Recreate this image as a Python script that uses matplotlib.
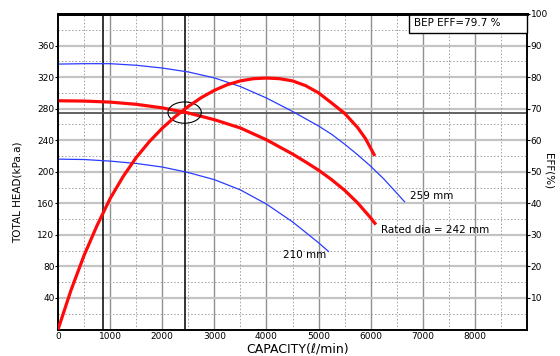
import numpy as np
import matplotlib
matplotlib.use("Agg")
import matplotlib.pyplot as plt
from matplotlib.patches import Ellipse, Rectangle

# capacity (l/min) vs head (kPa.a) for each impeller diameter
q_259 = [0, 500, 1000, 1500, 2000, 2500, 3000, 3500, 4000, 4500, 5000, 5250, 5500, 5750,
         6000, 6250, 6500, 6650]
h_259 = [336.5, 337, 337, 335, 331.5, 326.5, 319, 308, 293.5, 276.5, 258, 247.5, 235, 221.5,
         207, 191, 173, 162]

q_242 = [0, 500, 1000, 1500, 2000, 2500, 3000, 3500, 4000, 4500, 4750, 5000, 5250, 5500,
         5750, 6000, 6100]
h_242 = [290, 289.6, 288.3, 285.5, 281, 274.5, 266, 255.5, 240.5, 222.5, 212.5, 202, 190, 176.5,
         160.5, 141.5, 133]

q_210 = [0, 500, 1000, 1500, 2000, 2500, 3000, 3500, 4000, 4500, 5000, 5190]
h_210 = [216, 215.5, 213.5, 210.5, 206, 199, 190, 177, 159, 136.5, 110, 99]

# efficiency curve (%)
q_eff = [0, 250, 500, 750, 1000, 1250, 1500, 1750, 2000, 2250, 2500, 2750, 3000, 3250,
         3500, 3750, 4000, 4250, 4500, 4750, 5000, 5250, 5500, 5750, 5900, 6080]
eff = [0, 12.5, 23.5, 33, 41.5, 48.5, 54.5, 59.5, 63.8, 67.5, 70.7, 73.5, 75.8, 77.6,
       78.8, 79.5, 79.7, 79.5, 78.8, 77.3, 75, 71.8, 68.5, 64, 60.5, 55]

rated_q = 2430
rated_h = 275
min_q = 865

fig = plt.figure(figsize=(5.6, 3.56), dpi=100)
ax = fig.add_axes([0.1036, 0.0744, 0.8375, 0.8863])
ax2 = ax.twinx()

ax.set_xlim(0, 9000)
ax.set_ylim(0, 400)
ax2.set_ylim(0, 100)

# grid
ax.set_xticks(np.arange(0, 9000, 1000))
ax.set_yticks(np.arange(40, 400, 40))
ax.set_xticklabels([str(v) for v in range(0, 9000, 1000)])
for v in range(1000, 9000, 1000):
    ax.axvline(v, color="#909090", lw=1.0, zorder=0)
for v in range(40, 400, 40):
    ax.axhline(v, color="#c4c4c4", lw=1.6, zorder=0)
for v in range(500, 9000, 1000):
    ax.axvline(v, color="#a0a0a0", lw=0.7, ls=(0, (1.5, 2)), zorder=0)
for v in range(20, 400, 40):
    ax.axhline(v, color="#a0a0a0", lw=0.7, ls=(0, (1.5, 2)), zorder=0)

ax2.set_yticks(np.arange(10, 101, 10))

# reference lines at rated point
ax.axvline(min_q, color="black", lw=1.1, zorder=1)
ax.axvline(rated_q, color="black", lw=1.1, zorder=1)
ax.axhline(rated_h, color="#555555", lw=1.3, zorder=1)

ax.plot(q_259, h_259, color="#2a3cff", lw=0.9, zorder=3)
ax.plot(q_210, h_210, color="#2a3cff", lw=0.9, zorder=3)
ax.plot(q_242, h_242, color="#ff0a0a", lw=2.3, zorder=3, solid_capstyle="butt")
ax2.plot(q_eff, eff, color="#ff0a0a", lw=2.3, zorder=3, solid_capstyle="butt")

ax.add_patch(Ellipse((rated_q, rated_h), 640, 27, fill=False, ec="black", lw=0.8, zorder=4))

ax.text(6756, 169, "259 mm", fontsize=7.5, va="center", ha="left")
ax.text(6198, 126, "Rated dia = 242 mm", fontsize=7.5, va="center", ha="left")
ax.text(4313, 95, "210 mm", fontsize=7.5, va="center", ha="left")

# BEP box flush with the top right corner
ax2.add_patch(Rectangle((0.749, 0.94), 0.251, 0.06, transform=ax.transAxes,
                        fc="white", ec="black", lw=1.0, zorder=5, clip_on=False))
ax2.text(0.758, 0.97, "BEP EFF=79.7 %", transform=ax.transAxes, fontsize=7.5,
         va="center", ha="left", zorder=6)

for a in (ax, ax2):
    for s in ("left", "right", "bottom"):
        a.spines[s].set_linewidth(1.2)
    a.spines["top"].set_linewidth(2.0)
    a.spines["top"].set_zorder(7)
ax.tick_params(axis="both", which="both", length=0, labelsize=6.5, pad=1.5)
ax.tick_params(axis="y", length=2, direction="out", pad=0.5)
ax2.tick_params(axis="y", length=2, direction="out", labelsize=6.5, pad=0.5)

fig.text(0.032, 0.46, "TOTAL HEAD(kPa.a)", rotation=90, ha="center", va="center", fontsize=7.5)
fig.text(0.979, 0.52, "EFF(%)", rotation=270, ha="center", va="center", fontsize=7.5)
fig.text(0.532, 0.02, "CAPACITY(\u2113/min)", ha="center", va="center", fontsize=9)

fig.savefig("out.png", dpi=100)
